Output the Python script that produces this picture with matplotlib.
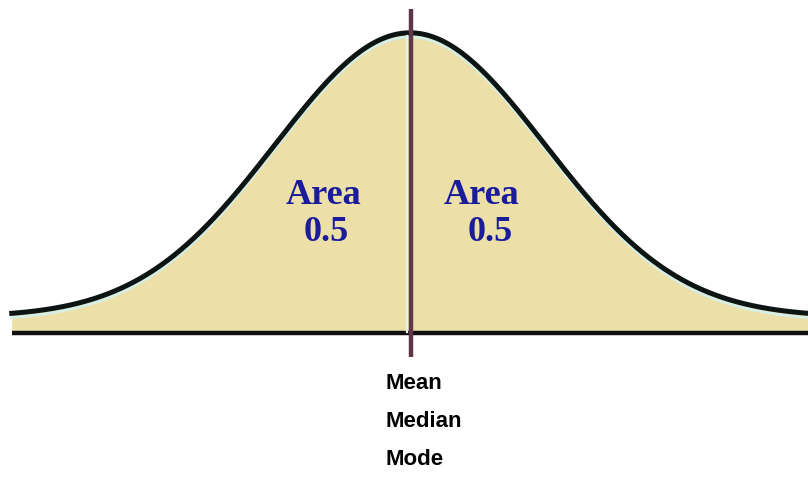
import numpy as np
import matplotlib.pyplot as plt

# normal curve split at the centre, mean = median = mode
mu = 0.0
sigma = 1.0
x_min, x_max = -2.95, 2.95
area_labels = ['Area\n0.5', 'Area\n0.5']
centre_labels = ['Mean', 'Median', 'Mode']

x = np.linspace(x_min, x_max, 600)
pdf = np.exp(-(x - mu) ** 2 / (2 * sigma ** 2)) / (sigma * np.sqrt(2 * np.pi))
base = -0.0225

fig = plt.figure(figsize=(8.08, 4.78), dpi=100)
ax = fig.add_axes([0, 0, 1, 1])
ax.set_xlim(-3.037, 2.948)
ax.set_ylim(-0.226, 0.445)
ax.axis('off')

ax.fill_between(x, base, pdf, color='#ecdfa7', lw=0, zorder=1)
ax.plot(x, pdf - 0.006, color='#d6efe6', lw=2, zorder=2)
ax.plot(x, pdf, color='#0c1414', lw=3.6, zorder=3)
ax.plot([x_min, x_max + 0.1], [base, base], color='#101010', lw=3.2,
        solid_capstyle='butt', zorder=3)

# centre line
ax.plot([mu - 0.02, mu - 0.02], [base + 0.002, pdf.max() - 0.004],
        color='#e2f3ee', lw=1.6, zorder=4)
ax.plot([mu + 0.004, mu + 0.004], [-0.056, 0.432], color='#5e3848',
        lw=3.2, solid_capstyle='butt', zorder=5)

# area labels
for xl, x0, x1 in [(0, -0.644, -0.622), (1, 0.533, 0.593)]:
    top, bottom = area_labels[xl].split('\n')
    ax.text(x0, 0.171, top, ha='center', va='center', fontsize=26,
            fontweight='bold', family='Liberation Serif', color='#1a1c9c', zorder=6)
    ax.text(x1, 0.118, bottom, ha='center', va='center', fontsize=26,
            fontweight='bold', family='Liberation Serif', color='#1a1c9c', zorder=6)

for i, lab in enumerate(centre_labels):
    ax.text(-0.185, -0.093 - i * 0.0535, lab, ha='left', va='center',
            fontsize=16, fontweight='bold',
            family='Liberation Sans', color='black')

fig.savefig('out.png', dpi=100)
